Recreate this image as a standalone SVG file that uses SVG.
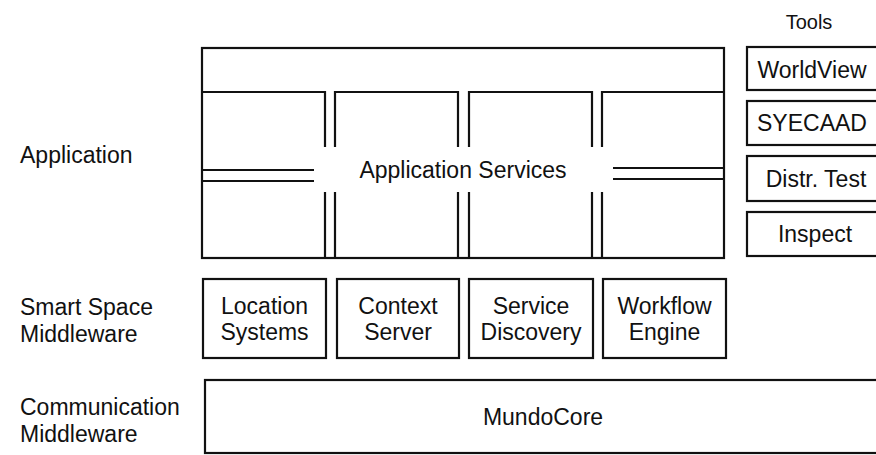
<svg xmlns="http://www.w3.org/2000/svg" width="876" height="455" viewBox="0 0 876 455">
<style>
  .bg { fill: #ffffff; }
  .box { fill: none; stroke: #111; stroke-width: 2.2; }
  .ln { fill: none; stroke: #111; stroke-width: 2.2; stroke-linecap: butt; }
  .t { font-family: "Liberation Sans", Arial, sans-serif; font-size: 23px; fill: #111; }
  .c { text-anchor: middle; }
</style>
<rect class="bg" x="0" y="0" width="876" height="455"/>

<g id="layer-labels">
  <text class="t" x="20" y="163">Application</text>
  <text class="t" x="20" y="315">Smart Space</text>
  <text class="t" x="20" y="342">Middleware</text>
  <text class="t" x="20" y="415">Communication</text>
  <text class="t" x="20" y="442">Middleware</text>
</g>

<g id="application-services">
  <rect class="box" x="202" y="48" width="522" height="210"/>
  <path class="ln" d="M202 92 H325 V147 M335 147 V92 H458 V147 M469 147 V92 H592 V147 M602 147 V92 H724"/>
  <path class="ln" d="M325 192 V258 M335 192 V258 M458 192 V258 M469 192 V258 M592 192 V258 M602 192 V258"/>
  <path class="ln" d="M202 170 H314 M202 181 H314 M613 168 H724 M613 179 H724"/>
  <text class="t c" x="463" y="178">Application Services</text>
</g>

<g id="tools">
  <text class="t c" x="809" y="29" style="font-size:20px">Tools</text>
</g>
<g id="tool-worldview">
  <rect class="box" x="747" y="47" width="140" height="43"/>
  <text class="t c" x="812" y="78">WorldView</text>
</g>
<g id="tool-syecaad">
  <rect class="box" x="747" y="101" width="140" height="44"/>
  <text class="t c" x="812" y="131">SYECAAD</text>
</g>
<g id="tool-distr-test">
  <rect class="box" x="747" y="156" width="140" height="45"/>
  <text class="t c" x="816" y="187">Distr. Test</text>
</g>
<g id="tool-inspect">
  <rect class="box" x="747" y="212" width="140" height="44"/>
  <text class="t c" x="815" y="242">Inspect</text>
</g>

<g id="location-systems">
  <rect class="box" x="203" y="279" width="123" height="79"/>
  <text class="t c" x="264.5" y="314">Location</text>
  <text class="t c" x="264.5" y="340">Systems</text>
</g>
<g id="context-server">
  <rect class="box" x="337" y="279" width="122" height="79"/>
  <text class="t c" x="398" y="314">Context</text>
  <text class="t c" x="398" y="340">Server</text>
</g>
<g id="service-discovery">
  <rect class="box" x="469" y="279" width="124" height="79"/>
  <text class="t c" x="531" y="314">Service</text>
  <text class="t c" x="531" y="340">Discovery</text>
</g>
<g id="workflow-engine">
  <rect class="box" x="603" y="279" width="123" height="79"/>
  <text class="t c" x="664.5" y="314">Workflow</text>
  <text class="t c" x="664.5" y="340">Engine</text>
</g>

<g id="mundocore">
  <rect class="box" x="205" y="380" width="690" height="73"/>
  <text class="t c" x="543" y="425">MundoCore</text>
</g>

<g id="connectors"></g>
</svg>
